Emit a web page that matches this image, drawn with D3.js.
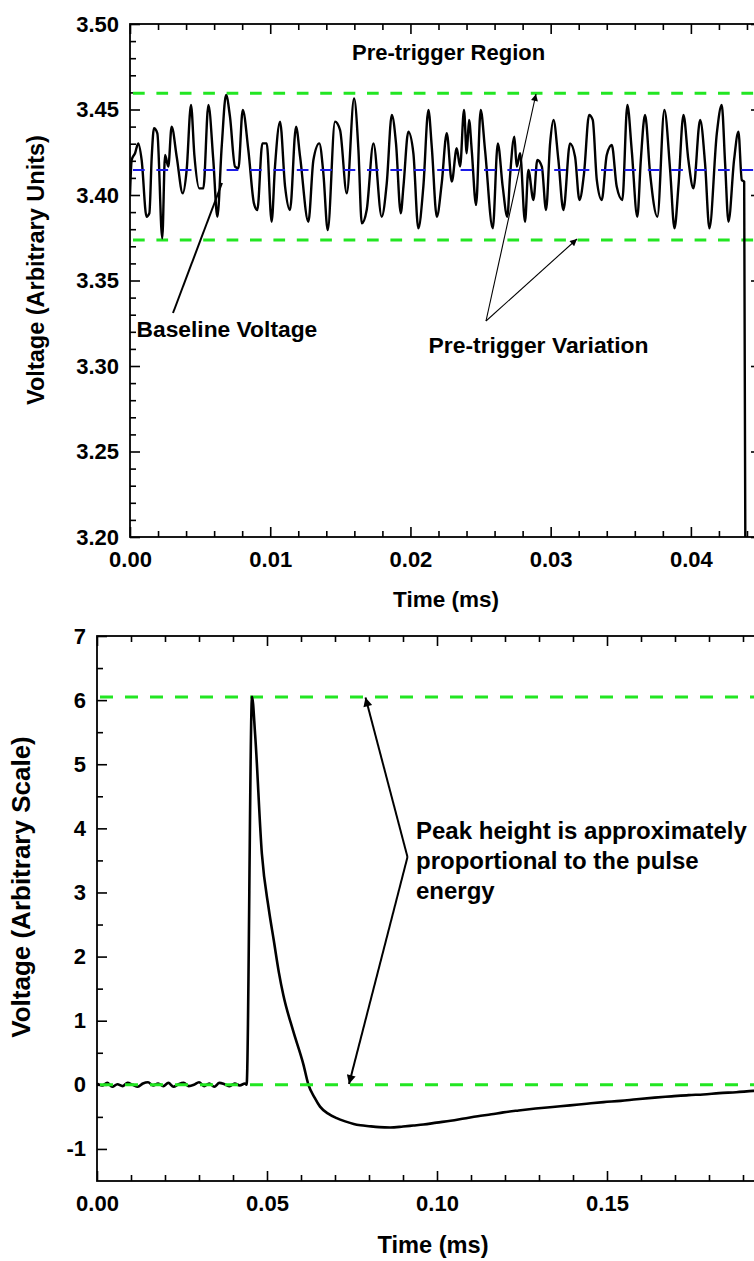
<!DOCTYPE html>
<html>
<head>
<meta charset="utf-8">
<script src="https://cdn.jsdelivr.net/npm/d3@7"></script>
<style>
  html, body { margin: 0; padding: 0; background: #fff; }
  svg { display: block; }
  text { font-family: "Liberation Sans", Arial, sans-serif; font-weight: bold; fill: #000; }
</style>
</head>
<body>
<svg id="chart" width="754" height="1261"></svg>
<script>
// ---------------- DATA ----------------
// Top panel: pre-trigger trace (time in ms, voltage arbitrary units)
const topTime = [0.00000,0.00012,0.00036,0.00059,0.00083,0.00118,0.00138,0.00155,0.00171,0.00195,
  0.00230,0.00250,0.00273,0.00297,0.00333,0.00376,0.00404,0.00435,0.00459,0.00494,
  0.00523,0.00559,0.00594,0.00623,0.00654,0.00685,0.00713,0.00749,0.00773,0.00804,
  0.00844,0.00884,0.00908,0.00944,0.00975,0.01010,0.01034,0.01070,0.01106,0.01141,
  0.01184,0.01213,0.01272,0.01308,0.01350,0.01379,0.01410,0.01462,0.01498,0.01546,
  0.01598,0.01629,0.01653,0.01688,0.01736,0.01795,0.01831,0.01867,0.01897,0.01931,
  0.01950,0.01985,0.02021,0.02056,0.02092,0.02128,0.02152,0.02188,0.02223,0.02259,
  0.02295,0.02330,0.02354,0.02382,0.02401,0.02418,0.02437,0.02468,0.02501,0.02532,
  0.02587,0.02623,0.02658,0.02691,0.02710,0.02741,0.02758,0.02782,0.02817,0.02841,
  0.02877,0.02905,0.02937,0.02967,0.02996,0.03020,0.03055,0.03091,0.03138,0.03174,
  0.03205,0.03238,0.03274,0.03300,0.03329,0.03364,0.03400,0.03436,0.03471,0.03511,
  0.03547,0.03578,0.03618,0.03643,0.03673,0.03709,0.03761,0.03811,0.03852,0.03883,
  0.03911,0.03947,0.03982,0.04018,0.04066,0.04101,0.04132,0.04185,0.04220,0.04244,
  0.04268,0.04308,0.04339,0.04363,0.04380,0.04392];
const topVolt = [3.4000,3.4205,3.4244,3.4302,3.4205,3.3873,3.3893,3.4224,3.4390,3.4361,
  3.3747,3.4234,3.4166,3.4400,3.4224,3.4010,3.4146,3.4526,3.4234,3.4039,
  3.4039,3.4526,3.4205,3.3873,3.4283,3.4585,3.4458,3.4166,3.4156,3.4497,
  3.4263,3.3951,3.3912,3.4302,3.4302,3.3844,3.4166,3.4429,3.4049,3.3912,
  3.4400,3.4224,3.3844,3.4205,3.4302,3.4127,3.3795,3.4429,3.4380,3.4010,
  3.4565,3.4263,3.3834,3.3912,3.4302,3.3873,3.4068,3.4468,3.4302,3.3893,
  3.4049,3.4370,3.4244,3.3805,3.4049,3.4497,3.4283,3.3873,3.4068,3.4361,
  3.4078,3.4273,3.4166,3.4497,3.4244,3.4439,3.4263,3.3942,3.4497,3.4263,
  3.3805,3.4302,3.4049,3.3873,3.4107,3.4341,3.4166,3.4244,3.3844,3.4146,
  3.3971,3.4205,3.4166,3.3912,3.4302,3.4439,3.4205,3.3912,3.4302,3.4224,
  3.3971,3.4127,3.4468,3.4439,3.4088,3.3971,3.4234,3.4292,3.4049,3.3971,
  3.4526,3.4263,3.3873,3.4205,3.4468,3.4127,3.3873,3.4497,3.4146,3.3805,
  3.4049,3.4468,3.4205,3.4039,3.4439,3.4185,3.3805,3.4361,3.4526,3.4185,
  3.3844,3.4205,3.4370,3.4088,3.4078,3.1000];
const topUpper = 3.4595;      // green dashed: max pre-trigger
const topBaseline = 3.4146;   // blue dashed: baseline voltage
const topLower = 3.3737;      // green dashed: min pre-trigger
const topXTicks = [0.00, 0.01, 0.02, 0.03, 0.04];
const topYTicks = [3.20, 3.25, 3.30, 3.35, 3.40, 3.45, 3.50];

// Bottom panel: full pulse
const botTime = [0.0000,0.0015,0.0030,0.0045,0.0060,0.0075,0.0090,0.0105,0.0120,0.0135,
  0.0150,0.0165,0.0180,0.0195,0.0210,0.0225,0.0240,0.0255,0.0270,0.0285,
  0.0300,0.0315,0.0330,0.0345,0.0360,0.0375,0.0390,0.0405,0.0420,0.0435,
  0.0440,0.0456,0.0465,0.0485,0.0505,0.0520,0.0535,0.0548,0.0577,0.0607,
  0.0622,0.0640,0.0656,0.0680,0.0705,0.0730,0.0755,0.0775,0.0800,0.0830,
  0.0862,0.0900,0.0930,0.0960,0.0999,0.1040,0.1080,0.1120,0.1160,0.1195,
  0.1240,0.1290,0.1340,0.1391,0.1440,0.1490,0.1540,0.1587,0.1640,0.1690,
  0.1740,0.1783,0.1830,0.1880,0.1930,0.2000];
const botVolt = [0.02,-0.01,0.03,-0.03,0.01,-0.02,0.03,0.00,-0.03,0.02,
  0.04,-0.01,0.02,-0.02,0.03,-0.03,0.01,0.03,-0.02,0.00,
  0.04,-0.02,0.02,-0.03,0.03,0.01,-0.02,0.02,-0.01,0.02,
  0.00,6.05,5.47,3.60,2.75,2.25,1.75,1.40,0.84,0.32,
  0.00,-0.20,-0.34,-0.45,-0.52,-0.57,-0.61,-0.63,-0.645,-0.66,
  -0.665,-0.65,-0.635,-0.62,-0.59,-0.56,-0.525,-0.49,-0.46,-0.43,
  -0.40,-0.37,-0.345,-0.32,-0.295,-0.27,-0.25,-0.225,-0.20,-0.18,
  -0.16,-0.15,-0.13,-0.115,-0.095,-0.08];
const botPeak = 6.05;
const botZero = 0.0;
const botXTicks = [0.00, 0.05, 0.10, 0.15, 0.20];
const botXLabels = ["0.00", "0.05", "0.10", "0.15", ""];
const botYTicks = [-1, 0, 1, 2, 3, 4, 5, 6, 7];

// ---------------- DRAW ----------------
const svg = d3.select("#chart");
const defs = svg.append("defs");

function marker(id, w, h) {
  defs.append("marker").attr("id", id)
    .attr("viewBox", "0 0 10 10").attr("refX", 10).attr("refY", 5)
    .attr("markerUnits", "userSpaceOnUse")
    .attr("markerWidth", w).attr("markerHeight", h)
    .attr("orient", "auto")
    .append("path").attr("d", "M0,0 L10,5 L0,10 z").attr("fill", "#000");
}
marker("headThin", 10, 7);
marker("headThick", 13, 9);

function range(a, b, step) {
  const out = []; const n = Math.round((b - a) / step);
  for (let i = 0; i <= n; i++) out.push(+(a + i * step).toFixed(6));
  return out;
}

function panel(opt) {
  const { x, y, xTicks, yTicks, xMinor, yMinor, xFmt, yFmt, id } = opt;
  const [x0, x1] = x.range();
  const [y0, y1] = y.range(); // y0 bottom, y1 top
  const g = svg.append("g");

  defs.append("clipPath").attr("id", id)
    .append("rect").attr("x", x0).attr("y", y1).attr("width", x1 - x0).attr("height", y0 - y1);

  const minorX = xMinor.filter(v => !xTicks.some(t => Math.abs(t - v) < 1e-9));
  const minorY = yMinor.filter(v => !yTicks.some(t => Math.abs(t - v) < 1e-9));

  function styleAxis(sel) {
    sel.select(".domain").remove();
    sel.selectAll(".tick line").attr("stroke", "#000").attr("stroke-width", 1.6);
    sel.selectAll("text").attr("font-size", 22).attr("font-family", '"Liberation Sans", Arial, sans-serif')
      .attr("font-weight", "bold").attr("fill", "#000");
  }
  // bottom
  g.append("g").attr("transform", `translate(0,${y0})`)
    .call(d3.axisBottom(x).tickValues(xTicks).tickSize(-10).tickPadding(14).tickFormat(xFmt)).call(styleAxis);
  g.append("g").attr("transform", `translate(0,${y0})`)
    .call(d3.axisBottom(x).tickValues(minorX).tickSize(-6).tickFormat("")).call(styleAxis);
  // top
  g.append("g").attr("transform", `translate(0,${y1})`)
    .call(d3.axisTop(x).tickValues(xTicks).tickSize(-10).tickFormat("")).call(styleAxis);
  g.append("g").attr("transform", `translate(0,${y1})`)
    .call(d3.axisTop(x).tickValues(minorX).tickSize(-6).tickFormat("")).call(styleAxis);
  // left
  g.append("g").attr("transform", `translate(${x0},0)`)
    .call(d3.axisLeft(y).tickValues(yTicks).tickSize(-10).tickPadding(11).tickFormat(yFmt)).call(styleAxis);
  g.append("g").attr("transform", `translate(${x0},0)`)
    .call(d3.axisLeft(y).tickValues(minorY).tickSize(-6).tickFormat("")).call(styleAxis);
  // right
  g.append("g").attr("transform", `translate(${x1},0)`)
    .call(d3.axisRight(y).tickValues(yTicks).tickSize(-10).tickFormat("")).call(styleAxis);
  g.append("g").attr("transform", `translate(${x1},0)`)
    .call(d3.axisRight(y).tickValues(minorY).tickSize(-6).tickFormat("")).call(styleAxis);

  g.append("rect").attr("x", x0).attr("y", y1).attr("width", x1 - x0).attr("height", y0 - y1)
    .attr("fill", "none").attr("stroke", "#000").attr("stroke-width", 1.8);

  const plot = svg.append("g").attr("clip-path", `url(#${id})`);
  return plot;
}

function hline(plot, x, y, v, color, width, dash) {
  const [x0, x1] = x.range();
  plot.append("line").attr("x1", x0 + 3).attr("x2", x1).attr("y1", y(v)).attr("y2", y(v))
    .attr("stroke", color).attr("stroke-width", width).attr("stroke-dasharray", dash);
}

// ===== Top panel =====
const xT = d3.scaleLinear().domain([0, 0.045]).range([130, 761]);
const yT = d3.scaleLinear().domain([3.20, 3.50]).range([537, 24]);
const plotT = panel({
  id: "clipTop", x: xT, y: yT, xTicks: topXTicks, yTicks: topYTicks,
  xMinor: range(0, 0.044, 0.002), yMinor: range(3.20, 3.50, 0.01),
  xFmt: d3.format(".2f"), yFmt: d3.format(".2f")
});
const topData = topTime.map((t, i) => ({ t, v: topVolt[i] }));
hline(plotT, xT, yT, topUpper, "#22e622", 3, "11.7 11.7");
hline(plotT, xT, yT, topLower, "#22e622", 3, "11.7 11.7");
plotT.append("path").datum(topData)
  .attr("d", d3.line().curve(d3.curveMonotoneX).x(d => xT(d.t)).y(d => yT(d.v)))
  .attr("fill", "none").attr("stroke", "#000").attr("stroke-width", 2.4).attr("stroke-linejoin", "round");
hline(plotT, xT, yT, topBaseline, "#1a1ae6", 2, "11.7 11.7");

svg.append("text").attr("x", 446).attr("y", 607).attr("text-anchor", "middle").attr("font-size", 22.5).text("Time (ms)");
svg.append("text").attr("transform", "translate(43.5,270) rotate(-90)").attr("text-anchor", "middle")
  .attr("font-size", 23.5).text("Voltage (Arbitrary Units)");

svg.append("text").attr("x", 352).attr("y", 60).attr("font-size", 22).text("Pre-trigger Region");
svg.append("text").attr("x", 136.5).attr("y", 337).attr("font-size", 22.8).text("Baseline Voltage");
svg.append("text").attr("x", 428.5).attr("y", 353).attr("font-size", 22.9).text("Pre-trigger Variation");

// annotation lines (top)
svg.append("line").attr("x1", 173).attr("y1", 313).attr("x2", 222).attr("y2", 183)
  .attr("stroke", "#000").attr("stroke-width", 2);
svg.append("line").attr("x1", 486).attr("y1", 321).attr("x2", 536).attr("y2", 94)
  .attr("stroke", "#000").attr("stroke-width", 1.1).attr("marker-end", "url(#headThin)");
svg.append("line").attr("x1", 486).attr("y1", 321).attr("x2", 577).attr("y2", 239)
  .attr("stroke", "#000").attr("stroke-width", 1.1).attr("marker-end", "url(#headThin)");

// ===== Bottom panel =====
const xB = d3.scaleLinear().domain([0, 0.20]).range([97, 777]);
const yB = d3.scaleLinear().domain([-1.5, 7]).range([1181, 636]);
const plotB = panel({
  id: "clipBot", x: xB, y: yB, xTicks: botXTicks, yTicks: botYTicks,
  xMinor: range(0, 0.20, 0.01), yMinor: range(-1.0, 7.0, 0.5),
  xFmt: (d, i) => botXLabels[i], yFmt: d => String(d)
});
const botData = botTime.map((t, i) => ({ t, v: botVolt[i] }));
hline(plotB, xB, yB, botPeak, "#22e622", 3, "13 12");
plotB.append("path").datum(botData)
  .attr("d", d3.line().curve(d3.curveMonotoneX).x(d => xB(d.t)).y(d => yB(d.v)))
  .attr("fill", "none").attr("stroke", "#000").attr("stroke-width", 2.6).attr("stroke-linejoin", "round");
hline(plotB, xB, yB, botZero, "#22e622", 3, "13 12");

svg.append("text").attr("x", 433).attr("y", 1253).attr("text-anchor", "middle").attr("font-size", 23.6).text("Time (ms)");
svg.append("text").attr("transform", "translate(30,887) rotate(-90)").attr("text-anchor", "middle")
  .attr("font-size", 26).text("Voltage (Arbitrary Scale)");

const noteLines = ["Peak height is approximately", "proportional to the pulse", "energy"];
svg.append("text").attr("font-size", 24).selectAll("tspan").data(noteLines).join("tspan")
  .attr("x", 416).attr("y", (d, i) => 839 + i * 30).text(d => d);

svg.append("line").attr("x1", 407.5).attr("y1", 857).attr("x2", 365.5).attr("y2", 697.5)
  .attr("stroke", "#000").attr("stroke-width", 2).attr("marker-end", "url(#headThick)");
svg.append("line").attr("x1", 407.5).attr("y1", 857).attr("x2", 349).attr("y2", 1084)
  .attr("stroke", "#000").attr("stroke-width", 2).attr("marker-end", "url(#headThick)");
</script>
</body>
</html>
